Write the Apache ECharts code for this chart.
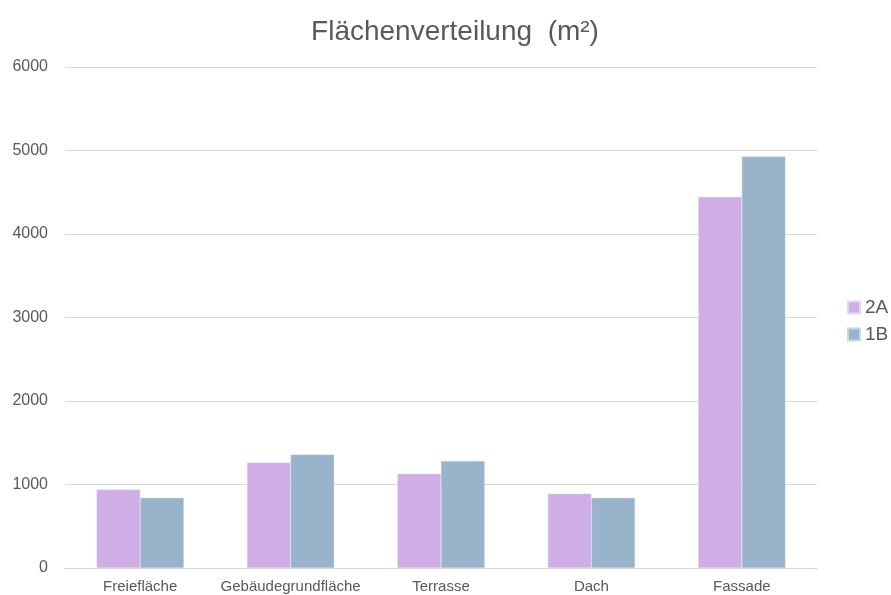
<!DOCTYPE html>
<html><head><meta charset="utf-8">
<script src="https://cdn.jsdelivr.net/npm/echarts@6/dist/echarts.min.js"></script>
<style>html,body{margin:0;padding:0;background:#fff}#c{width:891px;height:595px}</style>
</head><body><div id="c"></div>
<script>
const categories = ['Freiefläche','Gebäudegrundfläche','Terrasse','Dach','Fassade'];
const series2A = [940, 1262, 1130, 890, 4445];
const series1B = [840, 1358, 1282, 840, 4928];
const yTicks = [0,1000,2000,3000,4000,5000,6000];
const chart = echarts.init(document.getElementById('c'));
chart.setOption({
  animation:false,
  textStyle:{fontFamily:'Liberation Sans, Arial, sans-serif'},
  title:{text:'Flächenverteilung  (m²)',left:450,textAlign:'center',top:13,
    textStyle:{fontSize:28,fontWeight:'normal',color:'#595959'}},
  legend:{orient:'vertical',left:842,top:293,padding:5,itemWidth:12,itemHeight:12,itemGap:8,icon:'rect',
    textStyle:{fontSize:19,color:'#595959'},data:['2A','1B']},
  grid:{left:65,right:74,top:67,bottom:27,containLabel:false},
  xAxis:{type:'category',data:categories,
    axisLine:{lineStyle:{color:'#d9d9d9'}},axisTick:{show:false},
    axisLabel:{color:'#595959',fontSize:15,margin:11,interval:0}},
  yAxis:{type:'value',min:yTicks[0],max:yTicks[yTicks.length-1],interval:1000,
    axisLine:{show:false},axisTick:{show:false},
    axisLabel:{color:'#595959',fontSize:16,margin:17,formatter:v=>String(v)},
    splitLine:{lineStyle:{color:'#d9d9d9'}}},
  series:[
    {name:'2A',type:'bar',data:series2A,barGap:'0%',barCategoryGap:'42%',
      itemStyle:{color:'#cfaee6',borderColor:'#e6d6f2',borderWidth:0.5}},
    {name:'1B',type:'bar',data:series1B,
      itemStyle:{color:'#98b3ca',borderColor:'#c8d7e4',borderWidth:0.5}}
  ]
});
</script></body></html>
